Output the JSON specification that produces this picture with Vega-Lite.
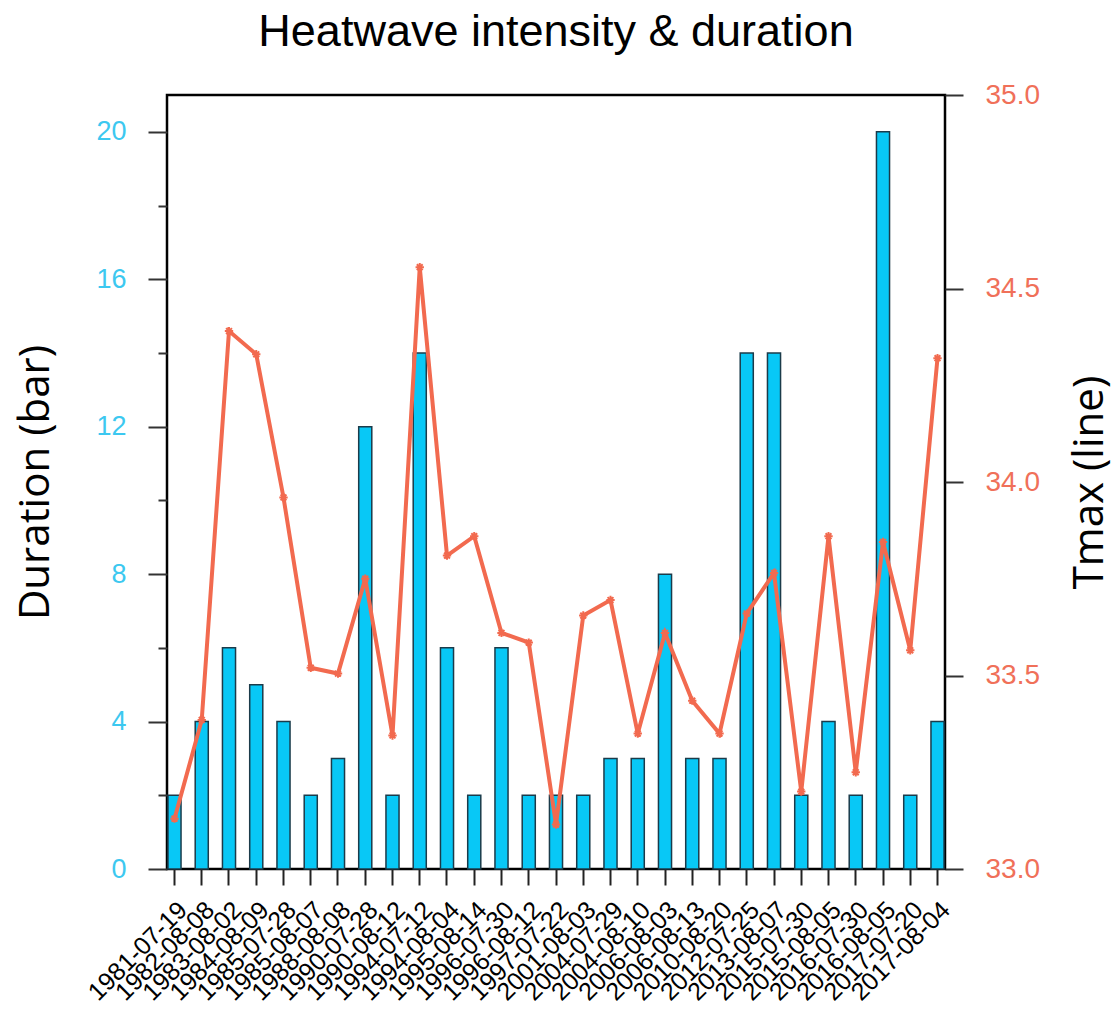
{
  "$schema": "https://vega.github.io/schema/vega-lite/v6.json",
  "width": 778,
  "height": 774,
  "autosize": {"type": "none"},
  "padding": {"left": 167, "top": 95, "right": 174, "bottom": 153},
  "background": "white",
  "title": {
    "text": "Heatwave intensity & duration",
    "fontSize": 45,
    "font": "Liberation Sans",
    "fontWeight": "normal",
    "color": "black",
    "anchor": "middle",
    "offset": 26
  },
  "config": {
    "view": {"stroke": "black", "strokeWidth": 2.5},
    "font": "Liberation Sans"
  },
  "data": {
    "values": [
      {"date": "1981-07-19", "dur": 2, "tmax": 33.13},
      {"date": "1982-08-08", "dur": 4, "tmax": 33.385},
      {"date": "1983-08-02", "dur": 6, "tmax": 34.39},
      {"date": "1984-08-09", "dur": 5, "tmax": 34.33},
      {"date": "1985-07-28", "dur": 4, "tmax": 33.96},
      {"date": "1985-08-07", "dur": 2, "tmax": 33.52},
      {"date": "1988-08-08", "dur": 3, "tmax": 33.505},
      {"date": "1990-07-28", "dur": 12, "tmax": 33.75},
      {"date": "1990-08-12", "dur": 2, "tmax": 33.345},
      {"date": "1994-07-12", "dur": 14, "tmax": 34.555},
      {"date": "1994-08-04", "dur": 6, "tmax": 33.81},
      {"date": "1995-08-14", "dur": 2, "tmax": 33.86},
      {"date": "1996-07-30", "dur": 6, "tmax": 33.61},
      {"date": "1996-08-12", "dur": 2, "tmax": 33.585},
      {"date": "1997-07-22", "dur": 2, "tmax": 33.115},
      {"date": "2001-08-03", "dur": 2, "tmax": 33.655},
      {"date": "2004-07-29", "dur": 3, "tmax": 33.695},
      {"date": "2004-08-10", "dur": 3, "tmax": 33.35},
      {"date": "2006-08-03", "dur": 8, "tmax": 33.61},
      {"date": "2006-08-13", "dur": 3, "tmax": 33.435},
      {"date": "2010-08-20", "dur": 3, "tmax": 33.35},
      {"date": "2012-07-25", "dur": 14, "tmax": 33.66},
      {"date": "2013-08-07", "dur": 14, "tmax": 33.765},
      {"date": "2015-07-30", "dur": 2, "tmax": 33.2},
      {"date": "2015-08-05", "dur": 4, "tmax": 33.86},
      {"date": "2016-07-30", "dur": 2, "tmax": 33.25},
      {"date": "2016-08-05", "dur": 20, "tmax": 33.845},
      {"date": "2017-07-20", "dur": 2, "tmax": 33.565},
      {"date": "2017-08-04", "dur": 4, "tmax": 34.32}
    ]
  },
  "encoding": {
    "x": {
      "field": "date",
      "type": "ordinal",
      "sort": null,
      "scale": {"paddingInner": 0.52, "paddingOuter": 0.035},
      "axis": {
        "title": null,
        "labelAngle": -45,
        "labelFontSize": 25,
        "labelColor": "black",
        "labelFont": "Liberation Sans",
        "labelPadding": 12,
        "labelOverlap": false,
        "labelBound": false,
        "tickSize": 16,
        "tickWidth": 2,
        "tickColor": "#222222",
        "domain": false
      }
    }
  },
  "layer": [
    {
      "mark": {"type": "bar", "color": "#08c8f6", "stroke": "#1b3b4a", "strokeWidth": 1.5},
      "encoding": {
        "y": {
          "field": "dur",
          "type": "quantitative",
          "scale": {"domain": [0, 21], "nice": false},
          "axis": {
            "orient": "left",
            "values": [0, 2, 4, 6, 8, 10, 12, 14, 16, 18, 20],
            "labelExpr": "datum.value % 4 == 0 ? datum.label : ''",
            "labelColor": "#3cc8f0",
            "labelFontSize": 27,
            "labelPadding": 22,
            "tickSize": {"condition": {"test": "datum.value % 4 != 0", "value": 9}, "value": 19},
            "tickWidth": 2,
            "tickColor": "#333333",
            "domain": false,
            "grid": false,
            "title": "Duration (bar)",
            "titleFontSize": 42,
            "titleFont": "Open Sans",
            "titleFontWeight": "normal",
            "titleColor": "black",
            "titlePadding": 38
          }
        }
      }
    },
    {
      "mark": {
        "type": "line",
        "color": "#f26a4f",
        "strokeWidth": 4,
        "point": {
          "shape": "M-1,0L1,0M0,-1L0,1M-0.7,-0.7L0.7,0.7M-0.7,0.7L0.7,-0.7",
          "filled": false,
          "stroke": "#f26a4f",
          "strokeWidth": 2,
          "size": 70
        }
      },
      "encoding": {
        "y": {
          "field": "tmax",
          "type": "quantitative",
          "scale": {"domain": [33, 35], "nice": false, "zero": false},
          "axis": {
            "orient": "right",
            "values": [33, 33.5, 34, 34.5, 35],
            "format": ".1f",
            "labelColor": "#f07059",
            "labelFontSize": 28,
            "labelPadding": 22,
            "tickSize": 18,
            "tickWidth": 2,
            "tickColor": "#333333",
            "domain": false,
            "grid": false,
            "title": "Tmax (line)",
            "titleAngle": 270,
            "titleFontSize": 42,
            "titleFont": "Open Sans",
            "titleFontWeight": "normal",
            "titleColor": "black",
            "titlePadding": 72
          }
        }
      }
    }
  ],
  "resolve": {"scale": {"y": "independent"}}
}
